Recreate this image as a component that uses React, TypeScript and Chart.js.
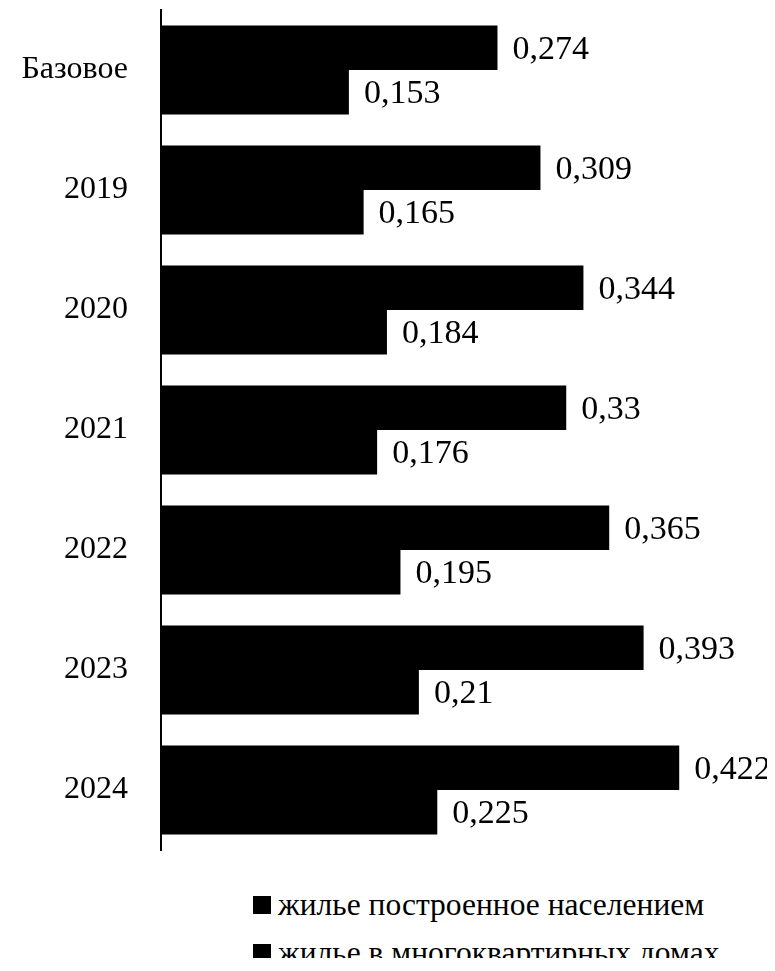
import React, { useEffect, useRef } from "react";
import { Chart, registerables } from "chart.js";

Chart.register(...registerables);

const categories = ["Базовое", "2019", "2020", "2021", "2022", "2023", "2024"];
const seriesNames = ["жилье построенное населением", "жилье в многоквартирных домах"];
const builtByPopulation = [0.274, 0.309, 0.344, 0.33, 0.365, 0.393, 0.422];
const apartmentBuildings = [0.153, 0.165, 0.184, 0.176, 0.195, 0.21, 0.225];
const seriesColors = ["#000000", "#000000"];

const SERIF = "'Liberation Serif', 'Times New Roman', serif";

const valueLabels = {
  id: "valueLabels",
  afterDatasetsDraw(chart: any) {
    const ctx = chart.ctx;
    ctx.save();
    ctx.fillStyle = "#000";
    ctx.font = `34px ${SERIF}`;
    ctx.textAlign = "left";
    ctx.textBaseline = "middle";
    chart.data.datasets.forEach((ds: any, di: number) => {
      const meta = chart.getDatasetMeta(di);
      meta.data.forEach((bar: any, i: number) => {
        const v = ds.data[i];
        ctx.fillText(String(v).replace(".", ","), bar.x + 15, bar.y + 2);
      });
    });
    ctx.restore();
  },
};

export default function App() {
  const ref = useRef<HTMLCanvasElement | null>(null);
  useEffect(() => {
    if (!ref.current) return;
    const chart = new Chart(ref.current, {
      type: "bar",
      data: {
        labels: categories,
        datasets: [
          { label: seriesNames[0], data: builtByPopulation, backgroundColor: seriesColors[0] },
          { label: seriesNames[1], data: apartmentBuildings, backgroundColor: seriesColors[1] },
        ],
      },
      options: {
        indexAxis: "y",
        animation: false,
        responsive: false,
        maintainAspectRatio: false,
        layout: { padding: { top: 2, bottom: 2, left: 0, right: 0 } },
        datasets: { bar: { barPercentage: 1, categoryPercentage: 0.742 } },
        plugins: { legend: { display: false }, tooltip: { enabled: false } },
        scales: {
          x: { display: false, min: 0, max: 0.5 },
          y: {
            afterFit: (s: any) => {
              s.width = 153;
              s.paddingTop = 0;
              s.paddingBottom = 0;
            },
            grid: { display: false, drawTicks: false },
            border: { display: true, color: "#000", width: 2 },
            ticks: { color: "#000", padding: 33, font: { family: SERIF, size: 32 } },
          },
        },
      },
      plugins: [valueLabels],
    });
    return () => chart.destroy();
  }, []);

  return (
    <div style={{ position: "relative", width: 767, height: 950 }}>
      <canvas ref={ref} width={767} height={844} style={{ display: "block" }} />
      {seriesNames.map((n, i) => (
        <div
          key={n}
          style={{
            position: "absolute",
            left: 245,
            top: 880 + i * 48,
            height: 34,
            display: "flex",
            alignItems: "center",
            fontFamily: SERIF,
            fontSize: 31.5,
            lineHeight: "34px",
            color: "#000",
            whiteSpace: "nowrap",
          }}
        >
          <span style={{ display: "inline-block", width: 18, height: 18, background: seriesColors[i], marginRight: 7 }} />
          <span>{n}</span>
        </div>
      ))}
    </div>
  );
}
